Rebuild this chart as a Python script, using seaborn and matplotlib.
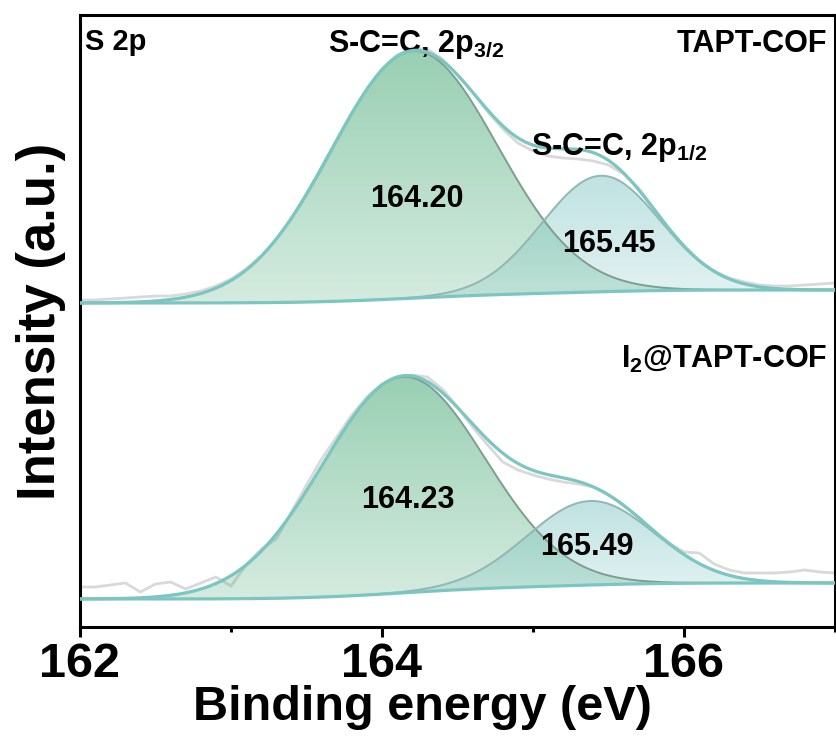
import numpy as np
import pandas as pd
import matplotlib
matplotlib.use("Agg")
import matplotlib.pyplot as plt
from matplotlib.ticker import MultipleLocator
import seaborn as sns
from math import erf

# raw spectra (binding energy in eV, intensity in a.u.)
energy = [162.0 + 0.1 * i for i in range(51)]
raw_tapt = [327, 327, 328, 329, 330, 331, 331, 333, 336, 341,
            348, 358, 371, 388, 408, 432, 458, 486, 514, 538,
            558, 572, 579, 578, 568, 552, 535, 515, 498, 484,
            476, 471, 469, 468, 466, 462, 453, 439, 419, 398,
            380, 366, 356, 349, 345, 342, 341, 341, 342, 343, 344]
raw_i2 = [40, 40, 42, 44, 35, 43, 45, 38, 44, 50,
          41, 62, 78, 88, 115, 142, 168, 190, 212, 230,
          243, 250, 252, 250, 238, 220, 200, 182, 165, 157,
          152, 148, 145, 143, 140, 132, 122, 110, 95, 84,
          75, 74, 63, 57, 54, 54, 54, 55, 57, 55, 54]

# fitted components: centre (eV), height, FWHM (eV)
tapt_centers = [164.21, 165.45]
tapt_heights = [247, 116]
tapt_fwhm = [1.30, 0.92]
tapt_bg = [324, 337]          # background at 162 eV and 167 eV

i2_centers = [164.14, 165.38]
i2_heights = [216, 84]
i2_fwhm = [1.27, 0.99]
i2_bg = [28, 44]

tapt_labels = ["164.20", "165.45"]
i2_labels = ["164.23", "165.49"]

teal = "#7cc6c2"
fill_cols = [(0.33, 0.69, 0.50), (0.43, 0.74, 0.74)]
fill_alpha = [(0.60, 0.25), (0.44, 0.18)]
edge_cols = ["#7e9e8f", "#92b6b2"]

sns.set_theme(style="ticks")
plt.rcParams["font.family"] = ["Liberation Sans", "DejaVu Sans"]
plt.rcParams["font.weight"] = "bold"
plt.rcParams["text.color"] = "black"
plt.rcParams["axes.labelcolor"] = "black"
plt.rcParams["xtick.color"] = "black"
plt.rcParams["mathtext.fontset"] = "custom"
plt.rcParams["mathtext.rm"] = "Liberation Sans:bold"
plt.rcParams["mathtext.it"] = "Liberation Sans:bold"
plt.rcParams["mathtext.bf"] = "Liberation Sans:bold"

fig = plt.figure(figsize=(8.37, 7.53), dpi=100)
ax = fig.add_axes([80 / 837, 126 / 753, 755 / 837, 612 / 753])

x = np.linspace(162, 167, 601)


def gauss(c, h, w):
    s = w / 2.3548
    return h * np.exp(-(x - c) ** 2 / (2 * s * s))


def shirley(centers, heights, fwhm, bg):
    areas = [h * w for h, w in zip(heights, fwhm)]
    tot = sum(areas)
    frac = np.zeros_like(x)
    for c, a, w in zip(centers, areas, fwhm):
        s = w / 2.3548
        frac += a / tot * np.array([0.5 * (1 + erf((e - c) / (s * np.sqrt(2)))) for e in x])
    return bg[0] + (bg[1] - bg[0]) * frac


def gradient_fill(base, top, col, alphas, z):
    poly = ax.fill_between(x, base, top, color="none", lw=0)
    lo, hi = base.min(), top.max()
    grad = np.zeros((256, 2, 4))
    grad[..., 0], grad[..., 1], grad[..., 2] = col
    grad[..., 3] = np.linspace(alphas[1], alphas[0], 256)[:, None]
    im = ax.imshow(grad, extent=[162, 167, lo, hi], origin="lower",
                   aspect="auto", zorder=z, interpolation="bilinear")
    path = poly.get_paths()[0]
    im.set_clip_path(path, transform=ax.transData)


def spectrum(raw, centers, heights, fwhm, bg):
    base = shirley(centers, heights, fwhm, bg)
    comps = [gauss(c, h, w) for c, h, w in zip(centers, heights, fwhm)]
    df_raw = pd.DataFrame({"E": energy, "I": raw})
    sns.lineplot(data=df_raw, x="E", y="I", ax=ax, color="#d9d9d9", lw=2.0, zorder=2)
    for k, comp in enumerate(comps):
        gradient_fill(base, base + comp, fill_cols[k], fill_alpha[k], 3 + k)
        ax.plot(x, base + comp, color=edge_cols[k], lw=1.4, zorder=5)
    env = base + sum(comps)
    df_env = pd.DataFrame({"E": x, "I": env})
    sns.lineplot(data=df_env, x="E", y="I", ax=ax, color=teal, lw=2.3, zorder=6)
    ax.plot(x, base, color=teal, lw=2.3, zorder=6)


spectrum(raw_tapt, tapt_centers, tapt_heights, tapt_fwhm, tapt_bg)
spectrum(raw_i2, i2_centers, i2_heights, i2_fwhm, i2_bg)

ax.set_xlim(162, 167)
ax.set_ylim(0, 612)
ax.set_yticks([])
ax.xaxis.set_major_locator(MultipleLocator(2))
ax.xaxis.set_minor_locator(MultipleLocator(1))
ax.tick_params(axis="x", which="major", length=7, width=2.2, labelsize=35, pad=4)
ax.tick_params(axis="x", which="minor", length=3.6, width=2.2)
for sp in ax.spines.values():
    sp.set_linewidth(2.2)
    sp.set_color("black")
    sp.set_visible(True)

ax.set_xlabel("Binding energy (eV)", fontsize=35, fontweight="bold", labelpad=2)
ax.xaxis.set_label_coords(0.453, -0.095)
ax.set_ylabel("Intensity (a.u.)", fontsize=38, fontweight="bold", labelpad=10)

fs = 22
nfs = 22
ax.text(162.03, 577, "S 2p", fontsize=21, fontweight="bold", va="baseline", ha="left")
ax.text(163.64, 575, "S-C=C, 2p$_{3/2}$", fontsize=fs, fontweight="bold", va="baseline", ha="left")
ax.text(166.95, 575, "TAPT-COF", fontsize=fs, fontweight="bold", va="baseline", ha="right")
ax.text(164.99, 472, "S-C=C, 2p$_{1/2}$", fontsize=fs, fontweight="bold", va="baseline", ha="left", zorder=8)
ax.text(166.95, 259, "I$_2$@TAPT-COF", fontsize=fs, fontweight="bold", va="baseline", ha="right")
ax.text(164.23, 420, tapt_labels[0], fontsize=nfs, fontweight="bold", va="baseline", ha="center", zorder=8)
ax.text(165.50, 375, tapt_labels[1], fontsize=nfs, fontweight="bold", va="baseline", ha="center", zorder=8)
ax.text(164.17, 119, i2_labels[0], fontsize=nfs, fontweight="bold", va="baseline", ha="center", zorder=8)
ax.text(165.36, 72, i2_labels[1], fontsize=nfs, fontweight="bold", va="baseline", ha="center", zorder=8)

fig.savefig("out.png", dpi=100)
